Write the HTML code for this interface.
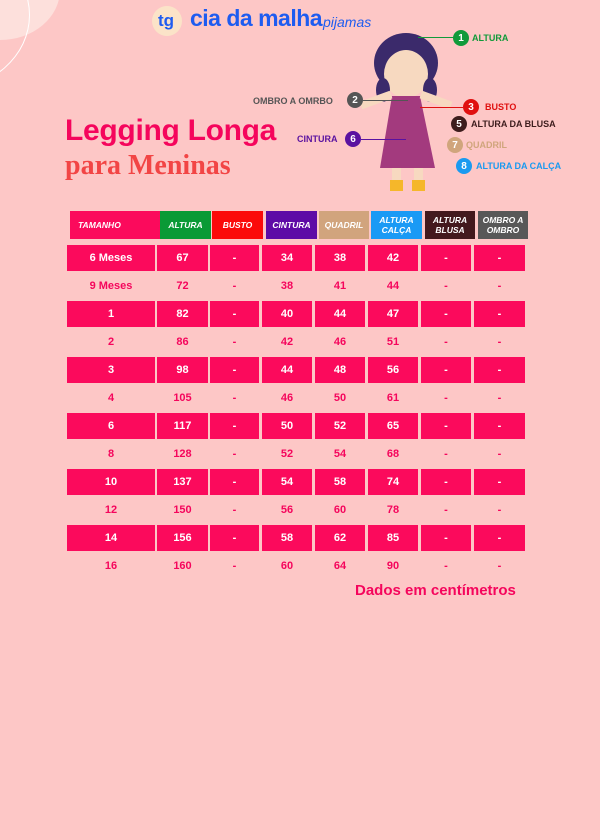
<!DOCTYPE html>
<html><head><meta charset="utf-8"><style>
*{margin:0;padding:0;box-sizing:border-box}
body{width:600px;height:840px;background:#fdc7c6;position:relative;overflow:hidden;font-family:"Liberation Sans",sans-serif;font-weight:bold}
.a{position:absolute}
.h{position:absolute;top:211px;height:28px;color:#fff;font-size:8.5px;font-style:italic;display:flex;align-items:center;justify-content:center;text-align:center;line-height:10px}
.c{position:absolute;height:26px;display:flex;align-items:center;justify-content:center;font-size:11px;color:#fff}
.lab{position:absolute;font-size:9px;font-weight:bold;white-space:nowrap}
.num{position:absolute;width:16px;height:16px;border-radius:50%;color:#fff;font-size:10px;display:flex;align-items:center;justify-content:center}
</style></head><body>
<div class="a" style="left:-60px;top:-60px;width:120px;height:100px;border-radius:50%;background:#fde0dc"></div>
<div class="a" style="left:-140px;top:-60px;width:170px;height:150px;border-radius:50%;border:1.5px solid #fff"></div>
<div class="a" style="left:152px;top:6px;width:30px;height:30px;border-radius:50%;background:#fbe3c8"></div>
<div class="a" style="left:158px;top:11px;font-size:17px;color:#1e5cf0;font-weight:bold">tg</div>
<div class="a" style="left:190px;top:5px;font-size:23px;color:#1e5cf0;letter-spacing:-0.5px">cia da malha</div>
<div class="a" style="left:323px;top:14px;font-size:14px;color:#1e5cf0;font-style:italic;font-weight:normal">pijamas</div>
<div class="a" style="left:65px;top:114px;font-size:30px;color:#f5055c;letter-spacing:-0.3px">Legging Longa</div>
<div class="a" style="left:65px;top:150px;font-size:28px;color:#f24545;font-family:'Liberation Serif',serif">para Meninas</div>
<svg class="a" style="left:350px;top:28px" width="110" height="170">
<ellipse cx="56" cy="35" rx="32" ry="30" fill="#3b2a6b"/>
<ellipse cx="56" cy="46" rx="22" ry="24" fill="#f7d9c0"/>
<ellipse cx="33" cy="62" rx="7" ry="12" fill="#3b2a6b"/><ellipse cx="80" cy="62" rx="7" ry="12" fill="#3b2a6b"/>
<path d="M42 68 L70 68 L85 140 L30 140 Z" fill="#a33a7e"/>
<rect x="10" y="68" width="32" height="8" fill="#f7d9c0" transform="rotate(-20 26 72)"/>
<rect x="70" y="68" width="32" height="8" fill="#f7d9c0" transform="rotate(20 86 72)"/>
<rect x="42" y="140" width="9" height="18" fill="#f7d9c0"/><rect x="64" y="140" width="9" height="18" fill="#f7d9c0"/>
<rect x="40" y="152" width="13" height="11" fill="#f5b72a"/><rect x="62" y="152" width="13" height="11" fill="#f5b72a"/>
</svg>
<div class="a" style="left:418px;top:37px;width:36px;height:1px;background:#119a3a"></div>
<div class="num" style="left:453px;top:30px;background:#119a3a">1</div><div class="lab" style="left:472px;top:33px;color:#119a3a">ALTURA</div>
<div class="lab" style="left:253px;top:96px;color:#555">OMBRO A OMRBO</div><div class="num" style="left:347px;top:92px;background:#555">2</div>
<div class="a" style="left:363px;top:100px;width:45px;height:1px;background:#555"></div>
<div class="a" style="left:420px;top:107px;width:43px;height:1px;background:#e01010"></div>
<div class="num" style="left:463px;top:99px;background:#e01010">3</div><div class="lab" style="left:485px;top:102px;color:#e01010">BUSTO</div>
<div class="num" style="left:451px;top:116px;background:#3d1d1d">5</div><div class="lab" style="left:471px;top:119px;color:#3d1d1d">ALTURA DA BLUSA</div>
<div class="lab" style="left:297px;top:134px;color:#5a12a0">CINTURA</div><div class="num" style="left:345px;top:131px;background:#5a12a0">6</div>
<div class="a" style="left:361px;top:139px;width:45px;height:1px;background:#5a12a0"></div>
<div class="num" style="left:447px;top:137px;background:#d0a57c">7</div><div class="lab" style="left:466px;top:140px;color:#d0a57c">QUADRIL</div>
<div class="num" style="left:456px;top:158px;background:#1a9af0">8</div><div class="lab" style="left:476px;top:161px;color:#1a9af0">ALTURA DA CALÇA</div>
<div class="h" style="left:70px;width:90px;background:#fb0a5c;justify-content:flex-start;padding-left:8px">TAMANHO</div>
<div class="h" style="left:160px;width:51px;background:#0a9a36">ALTURA</div>
<div class="h" style="left:212px;width:51px;background:#fb0a0a">BUSTO</div>
<div class="h" style="left:266px;width:51px;background:#5e0aa6">CINTURA</div>
<div class="h" style="left:319px;width:50px;background:#d1a47d">QUADRIL</div>
<div class="h" style="left:371px;width:51px;background:#1a9af5">ALTURA<br>CALÇA</div>
<div class="h" style="left:425px;width:50px;background:#43191d">ALTURA<br>BLUSA</div>
<div class="h" style="left:478px;width:50px;background:#585858">OMBRO A<br>OMBRO</div>
<div id="t"></div>
<div class="a" style="left:355px;top:582px;font-size:15px;color:#f5055c">Dados em centímetros</div>
<script>
var d=[["6 Meses",67,34,38,42],["9 Meses",72,38,41,44],["1",82,40,44,47],["2",86,42,46,51],["3",98,44,48,56],["4",105,46,50,61],["6",117,50,52,65],["8",128,52,54,68],["10",137,54,58,74],["12",150,56,60,78],["14",156,58,62,85],["16",160,60,64,90]];
var xs=[[67,88],[157,51],[210,49],[262,50],[315,50],[368,50],[421,50],[474,51]];
var h="";
d.forEach(function(r,i){var v=[r[0],r[1],"-",r[2],r[3],r[4],"-","-"];var y=245+i*28;var f=i%2==0;
xs.forEach(function(x,j){h+='<div class="c" style="left:'+x[0]+'px;top:'+y+'px;width:'+x[1]+'px;'+(f?'background:#fb0a5c;color:#fff':'color:#f5055c')+'">'+v[j]+'</div>';});});
document.getElementById("t").innerHTML=h;
</script>
</body></html>
